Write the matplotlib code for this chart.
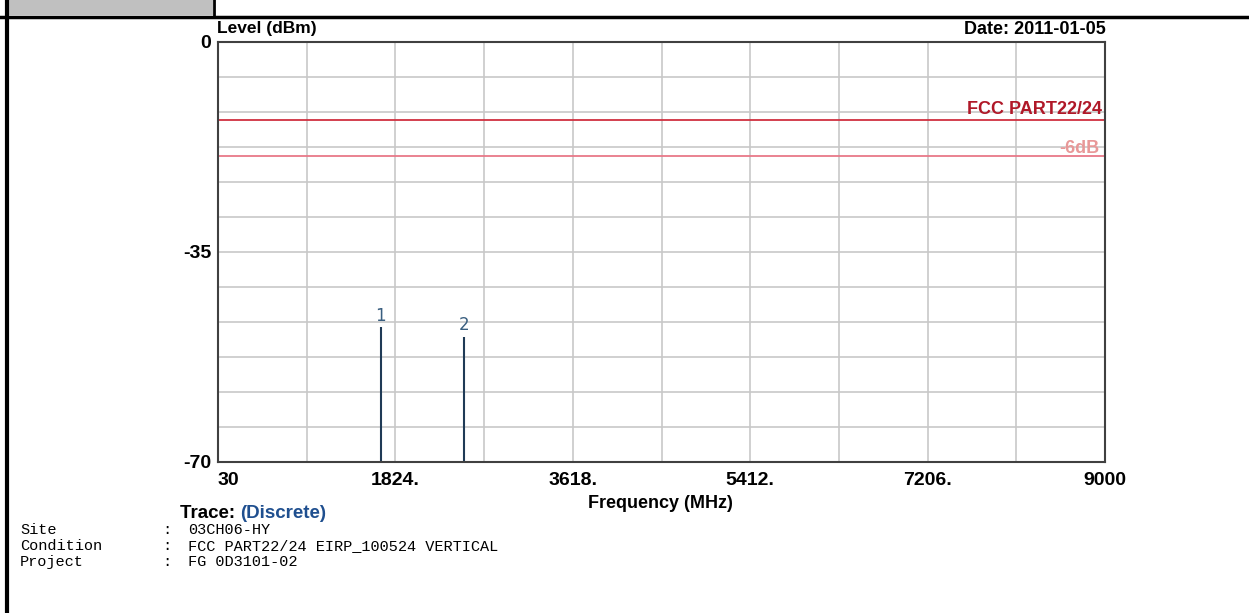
import numpy as np
import matplotlib
matplotlib.use("Agg")
import matplotlib.pyplot as plt
from matplotlib.patches import Rectangle
from matplotlib.lines import Line2D

# Data
freq_ticks = [30, 1824, 3618, 5412, 7206, 9000]
freq_tick_labels = ["30", "1824.", "3618.", "5412.", "7206.", "9000"]
level_ticks = [0, -35, -70]
spike_freqs = [1675, 2515]
spike_levels = [-47.5, -49.1]
spike_labels = ["1", "2"]
limit_level = -13
limit_6db_level = -19
info_keys = ["Site", "Condition", "Project"]
info_vals = ["03CH06-HY", "FCC PART22/24 EIRP_100524 VERTICAL", "FG 0D3101-02"]

W, H = 1249, 613
BOLD = ["Liberation Sans", "DejaVu Sans"]
MONO = ["Liberation Mono", "DejaVu Sans Mono"]

fig = plt.figure(figsize=(W / 100, H / 100), dpi=100)
fig.patch.set_facecolor("white")

# frame bits drawn in pixel coords
def px(x, y):
    return x / W, 1 - y / H

fig.patches.append(Rectangle(px(5, 15), 208 / W, 15 / H, transform=fig.transFigure,
                             facecolor="#c0c0c0", edgecolor="none"))
fig.add_artist(Line2D([6.5 / W, 6.5 / W], [0, 1], transform=fig.transFigure, color="black", lw=3))
fig.add_artist(Line2D([0, 1], [1 - 16.5 / H] * 2, transform=fig.transFigure, color="black", lw=2.5))
fig.add_artist(Line2D([214 / W] * 2, [1 - 16 / H, 1], transform=fig.transFigure, color="black", lw=2))

ax = fig.add_axes([218 / W, 1 - 462 / H, 887 / W, 420 / H])
ax.set_xlim(30, 9000)
ax.set_ylim(-70, 0)

# grid: 10 x 12 cells
ax.xaxis.remove_overlapping_locs = False
ax.yaxis.remove_overlapping_locs = False
ax.set_xticks(np.linspace(30, 9000, 11), minor=True)
ax.set_yticks(np.linspace(-70, 0, 13), minor=True)
ax.grid(which="minor", color="#c8c8c8", lw=1.2)
ax.tick_params(which="both", length=0)
ax.set_axisbelow(True)

ax.set_xticks(freq_ticks)
ax.set_xticklabels(freq_tick_labels, fontfamily=BOLD, fontweight="bold", fontsize=14)
ax.set_yticks(level_ticks)
ax.set_yticklabels([str(v) for v in level_ticks], fontfamily=BOLD, fontweight="bold", fontsize=14)
ax.tick_params(axis="x", pad=7)
ax.tick_params(axis="y", pad=5)
ax.get_xticklabels()[0].set_horizontalalignment("left")

for s in ax.spines.values():
    s.set_color("#404040")
    s.set_linewidth(1.5)

# limit lines
ax.axhline(limit_level, color="#d03040", lw=1.3)
ax.axhline(limit_6db_level, color="#e87888", lw=1.3)
ax.text(8970, limit_level + 0.3, "FCC PART22/24", ha="right", va="bottom", color="#b01828",
        fontfamily=BOLD, fontweight="bold", fontsize=13)
ax.text(8940, limit_6db_level + 1.2, "-6dB", ha="right", va="center", color="#e89898",
        fontfamily=BOLD, fontweight="bold", fontsize=13)

# discrete spikes
ax.vlines(spike_freqs, -70, spike_levels, color="#1f3a56", lw=1.5)
for f, lv, lab in zip(spike_freqs, spike_levels, spike_labels):
    ax.text(f, lv + 0.4, lab, ha="center", va="bottom", color="#3a5f80", fontsize=12)

# titles around the axes
fig.text(217 / W, 1 - 29 / H, "Level (dBm)", ha="left", va="center",
         fontfamily=BOLD, fontweight="bold", fontsize=12.5)
fig.text(1106 / W, 1 - 29 / H, "Date: 2011-01-05", ha="right", va="center",
         fontfamily=BOLD, fontweight="bold", fontsize=13)
fig.text(660 / W, 1 - 503 / H, "Frequency (MHz)", ha="center", va="center",
         fontfamily=BOLD, fontweight="bold", fontsize=13)
t = fig.text(180 / W, 1 - 513 / H, "Trace: ", ha="left", va="center",
             fontfamily=BOLD, fontweight="bold", fontsize=13.5)
fig.canvas.draw()
bb = t.get_window_extent()
fig.text(bb.x1 / W, 1 - 513 / H, "(Discrete)", ha="left", va="center", color="#1f4f8f",
         fontfamily=BOLD, fontweight="bold", fontsize=13.5)

for i, (k, v) in enumerate(zip(info_keys, info_vals)):
    y = 1 - (530 + i * 16) / H
    fig.text(20 / W, y, k, ha="left", va="center", fontfamily=MONO, fontsize=11)
    fig.text(162 / W, y, ":", ha="left", va="center", fontfamily=MONO, fontsize=11)
    fig.text(188 / W, y, v, ha="left", va="center", fontfamily=MONO, fontsize=11)

fig.savefig("out.png", dpi=100)
